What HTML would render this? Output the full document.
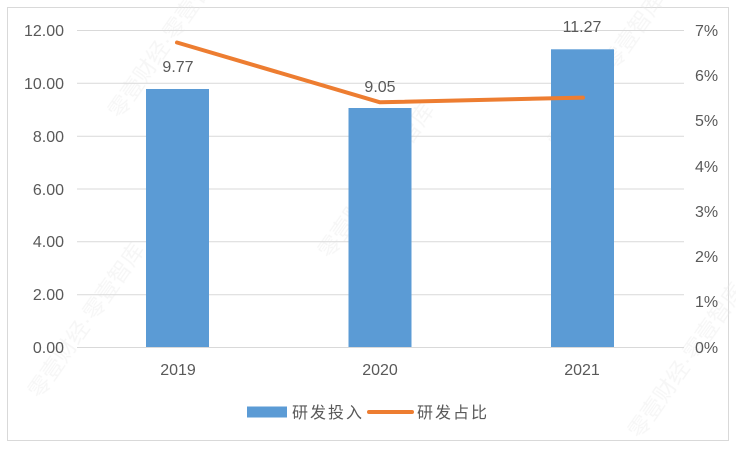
<!DOCTYPE html>
<html><head><meta charset="utf-8"><style>
html,body{margin:0;padding:0;background:#fff;}
svg{display:block;}
text{font-family:"Liberation Sans","Noto Sans CJK SC",sans-serif;fill:#595959;}
</style></head><body>
<svg width="736" height="449" viewBox="0 0 736 449" xmlns="http://www.w3.org/2000/svg">
<rect x="0" y="0" width="736" height="449" fill="#fff"/>
<rect x="7.5" y="7.5" width="721" height="433" fill="#fff" stroke="#d9d9d9" stroke-width="1"/>
<!-- watermarks -->
<g font-size="22" opacity="0.35">
<text x="0" y="0" transform="translate(120,120) rotate(-55)" style="fill:#e6e6e6">零壹财经·零壹智库</text>
<text x="0" y="0" transform="translate(330,260) rotate(-55)" style="fill:#e6e6e6">零壹财经·零壹智库</text>
<text x="0" y="0" transform="translate(560,150) rotate(-55)" style="fill:#e6e6e6">零壹财经·零壹智库</text>
<text x="0" y="0" transform="translate(40,400) rotate(-55)" style="fill:#e6e6e6">零壹财经·零壹智库</text>
<text x="0" y="0" transform="translate(640,440) rotate(-55)" style="fill:#e6e6e6">零壹财经·零壹智库</text>
</g>
<!-- gridlines -->
<g stroke="#d9d9d9" stroke-width="1">
<line x1="77" x2="684" y1="30.5" y2="30.5"/>
<line x1="77" x2="684" y1="83.3" y2="83.3"/>
<line x1="77" x2="684" y1="136.2" y2="136.2"/>
<line x1="77" x2="684" y1="189" y2="189"/>
<line x1="77" x2="684" y1="241.8" y2="241.8"/>
<line x1="77" x2="684" y1="294.7" y2="294.7"/>
<line x1="77" x2="684" y1="347.5" y2="347.5"/>
</g>
<!-- bars -->
<g fill="#5b9bd5">
<rect x="146" y="89" width="63" height="258"/>
<rect x="348.5" y="108" width="63" height="239"/>
<rect x="551" y="49.3" width="63" height="297.7"/>
</g>
<!-- line -->
<polyline points="177,42.5 380,102.3 583,97.6" fill="none" stroke="#ed7d31" stroke-width="4" stroke-linecap="round" stroke-linejoin="round"/>
<!-- data labels -->
<g font-size="16" text-anchor="middle">
<text x="178" y="72">9.77</text>
<text x="380" y="92">9.05</text>
<text x="582" y="32">11.27</text>
</g>
<!-- left axis -->
<g font-size="16" text-anchor="end">
<text x="64" y="36">12.00</text>
<text x="64" y="89">10.00</text>
<text x="64" y="142">8.00</text>
<text x="64" y="195">6.00</text>
<text x="64" y="247">4.00</text>
<text x="64" y="300">2.00</text>
<text x="64" y="353">0.00</text>
</g>
<!-- right axis -->
<g font-size="16" text-anchor="start">
<text x="695" y="36">7%</text>
<text x="695" y="81">6%</text>
<text x="695" y="126">5%</text>
<text x="695" y="172">4%</text>
<text x="695" y="217">3%</text>
<text x="695" y="262">2%</text>
<text x="695" y="307">1%</text>
<text x="695" y="353">0%</text>
</g>
<!-- x axis -->
<g font-size="16" text-anchor="middle">
<text x="178" y="375">2019</text>
<text x="380" y="375">2020</text>
<text x="582" y="375">2021</text>
</g>
<!-- legend -->
<rect x="247" y="406.5" width="40" height="11" fill="#5b9bd5"/>
<text x="292" y="418" font-size="16" letter-spacing="2">研发投入</text>
<line x1="369" x2="412" y1="412" y2="412" stroke="#ed7d31" stroke-width="4" stroke-linecap="round"/>
<text x="417" y="418" font-size="16" letter-spacing="2">研发占比</text>
</svg>
</body></html>
